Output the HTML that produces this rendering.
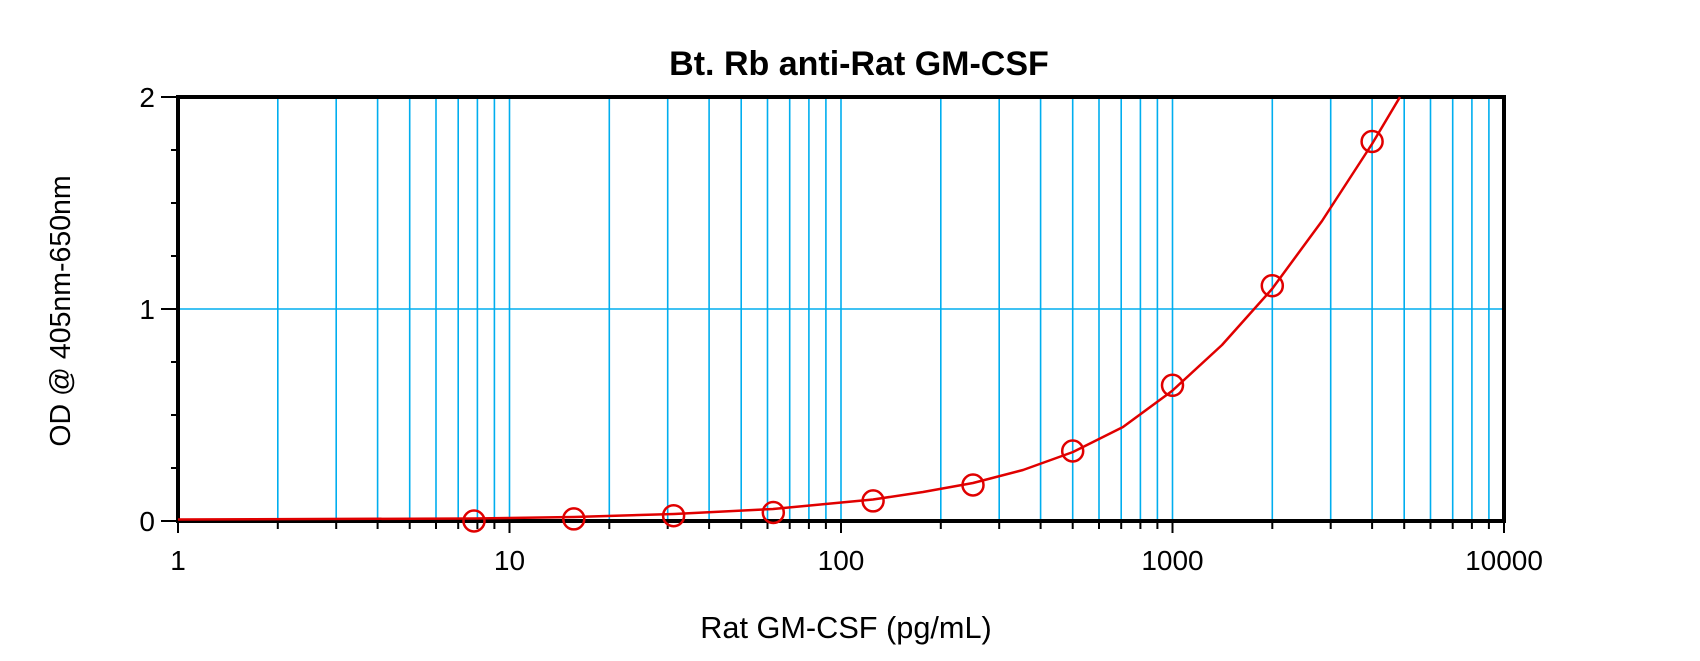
<!DOCTYPE html>
<html><head><meta charset="utf-8"><style>body{margin:0;background:#fff}svg{display:block}</style></head>
<body>
<svg width="1700" height="661" xmlns="http://www.w3.org/2000/svg" font-family="Liberation Sans, Arial, sans-serif">
<rect width="1700" height="661" fill="#fff"/>
<g stroke="#00aeef" stroke-width="1.6">
<line x1="277.8" y1="97" x2="277.8" y2="521"/><line x1="336.2" y1="97" x2="336.2" y2="521"/><line x1="377.6" y1="97" x2="377.6" y2="521"/><line x1="409.7" y1="97" x2="409.7" y2="521"/><line x1="436" y1="97" x2="436" y2="521"/><line x1="458.2" y1="97" x2="458.2" y2="521"/><line x1="477.4" y1="97" x2="477.4" y2="521"/><line x1="494.4" y1="97" x2="494.4" y2="521"/><line x1="509.5" y1="97" x2="509.5" y2="521"/>
<line x1="609.3" y1="97" x2="609.3" y2="521"/><line x1="667.7" y1="97" x2="667.7" y2="521"/><line x1="709.1" y1="97" x2="709.1" y2="521"/><line x1="741.2" y1="97" x2="741.2" y2="521"/><line x1="767.5" y1="97" x2="767.5" y2="521"/><line x1="789.7" y1="97" x2="789.7" y2="521"/><line x1="808.9" y1="97" x2="808.9" y2="521"/><line x1="825.9" y1="97" x2="825.9" y2="521"/><line x1="841" y1="97" x2="841" y2="521"/>
<line x1="940.8" y1="97" x2="940.8" y2="521"/><line x1="999.2" y1="97" x2="999.2" y2="521"/><line x1="1040.6" y1="97" x2="1040.6" y2="521"/><line x1="1072.7" y1="97" x2="1072.7" y2="521"/><line x1="1099" y1="97" x2="1099" y2="521"/><line x1="1121.2" y1="97" x2="1121.2" y2="521"/><line x1="1140.4" y1="97" x2="1140.4" y2="521"/><line x1="1157.4" y1="97" x2="1157.4" y2="521"/><line x1="1172.5" y1="97" x2="1172.5" y2="521"/>
<line x1="1272.3" y1="97" x2="1272.3" y2="521"/><line x1="1330.7" y1="97" x2="1330.7" y2="521"/><line x1="1372.1" y1="97" x2="1372.1" y2="521"/><line x1="1404.2" y1="97" x2="1404.2" y2="521"/><line x1="1430.5" y1="97" x2="1430.5" y2="521"/><line x1="1452.7" y1="97" x2="1452.7" y2="521"/><line x1="1471.9" y1="97" x2="1471.9" y2="521"/><line x1="1488.9" y1="97" x2="1488.9" y2="521"/>
<line x1="178" y1="309" x2="1504" y2="309"/>
</g>
<g stroke="#000" stroke-width="2">
<line x1="178" y1="521" x2="178" y2="533"/><line x1="509.5" y1="521" x2="509.5" y2="533"/><line x1="841" y1="521" x2="841" y2="533"/><line x1="1172.5" y1="521" x2="1172.5" y2="533"/><line x1="1504" y1="521" x2="1504" y2="533"/>
<line x1="277.8" y1="521" x2="277.8" y2="529"/><line x1="336.2" y1="521" x2="336.2" y2="529"/><line x1="377.6" y1="521" x2="377.6" y2="529"/><line x1="409.7" y1="521" x2="409.7" y2="529"/><line x1="436" y1="521" x2="436" y2="529"/><line x1="458.2" y1="521" x2="458.2" y2="529"/><line x1="477.4" y1="521" x2="477.4" y2="529"/><line x1="494.4" y1="521" x2="494.4" y2="529"/>
<line x1="609.3" y1="521" x2="609.3" y2="529"/><line x1="667.7" y1="521" x2="667.7" y2="529"/><line x1="709.1" y1="521" x2="709.1" y2="529"/><line x1="741.2" y1="521" x2="741.2" y2="529"/><line x1="767.5" y1="521" x2="767.5" y2="529"/><line x1="789.7" y1="521" x2="789.7" y2="529"/><line x1="808.9" y1="521" x2="808.9" y2="529"/><line x1="825.9" y1="521" x2="825.9" y2="529"/>
<line x1="940.8" y1="521" x2="940.8" y2="529"/><line x1="999.2" y1="521" x2="999.2" y2="529"/><line x1="1040.6" y1="521" x2="1040.6" y2="529"/><line x1="1072.7" y1="521" x2="1072.7" y2="529"/><line x1="1099" y1="521" x2="1099" y2="529"/><line x1="1121.2" y1="521" x2="1121.2" y2="529"/><line x1="1140.4" y1="521" x2="1140.4" y2="529"/><line x1="1157.4" y1="521" x2="1157.4" y2="529"/>
<line x1="1272.3" y1="521" x2="1272.3" y2="529"/><line x1="1330.7" y1="521" x2="1330.7" y2="529"/><line x1="1372.1" y1="521" x2="1372.1" y2="529"/><line x1="1404.2" y1="521" x2="1404.2" y2="529"/><line x1="1430.5" y1="521" x2="1430.5" y2="529"/><line x1="1452.7" y1="521" x2="1452.7" y2="529"/><line x1="1471.9" y1="521" x2="1471.9" y2="529"/><line x1="1488.9" y1="521" x2="1488.9" y2="529"/>
<line x1="161" y1="521" x2="178" y2="521"/><line x1="161" y1="309" x2="178" y2="309"/><line x1="161" y1="97" x2="178" y2="97"/>
<line x1="171" y1="468" x2="178" y2="468"/><line x1="171" y1="415" x2="178" y2="415"/><line x1="171" y1="362" x2="178" y2="362"/><line x1="171" y1="256" x2="178" y2="256"/><line x1="171" y1="203" x2="178" y2="203"/><line x1="171" y1="150" x2="178" y2="150"/>
</g>
<rect x="178" y="97" width="1326" height="424" fill="none" stroke="#000" stroke-width="4"/>
<path fill="none" stroke="#e00000" stroke-width="2.5" stroke-linejoin="round" d="M178,519.5 L474,518.5 L574,517 L674,514 L773,509 L873,499.5 L923,492 L973,483 L1023,470 L1073,452 L1123,427 L1172,391 L1222,345 L1272,289 L1322,221 L1372,144 L1400,97"/>
<g fill="none" stroke="#e00000" stroke-width="2.5">
<circle cx="474" cy="521" r="10.5"/><circle cx="573.8" cy="518.9" r="10.5"/><circle cx="673.6" cy="515.7" r="10.5"/><circle cx="773.3" cy="512.5" r="10.5"/><circle cx="873.1" cy="500.9" r="10.5"/><circle cx="973" cy="485" r="10.5"/><circle cx="1072.7" cy="451" r="10.5"/><circle cx="1172.5" cy="385.3" r="10.5"/><circle cx="1272.3" cy="285.7" r="10.5"/><circle cx="1372.1" cy="141.5" r="10.5"/>
</g>
<g font-size="28" fill="#000">
<text x="178" y="570" text-anchor="middle">1</text>
<text x="509.5" y="570" text-anchor="middle">10</text>
<text x="841" y="570" text-anchor="middle">100</text>
<text x="1172.5" y="570" text-anchor="middle">1000</text>
<text x="1504" y="570" text-anchor="middle">10000</text>
<text x="155" y="531" text-anchor="end">0</text>
<text x="155" y="319" text-anchor="end">1</text>
<text x="155" y="107" text-anchor="end">2</text>
</g>
<text x="859" y="75" font-size="34" font-weight="bold" text-anchor="middle">Bt. Rb anti-Rat GM-CSF</text>
<text x="846" y="638" font-size="30.7" text-anchor="middle">Rat GM-CSF (pg/mL)</text>
<text transform="translate(70,311) rotate(-90)" font-size="28.5" text-anchor="middle">OD @ 405nm-650nm</text>
</svg>
</body></html>
